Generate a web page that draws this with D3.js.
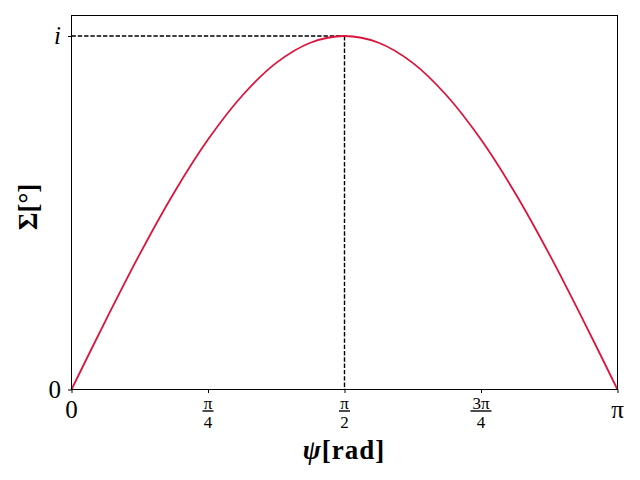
<!DOCTYPE html>
<html lang="en">
<head>
<meta charset="UTF-8">
<script src="https://d3js.org/d3.v7.min.js"></script>
<style>
  body { margin: 0; background: #fff; }
  svg { display: block; }
  .tick line { stroke: #000; }
  .serif { font-family: "Liberation Serif", "DejaVu Serif", serif; }
</style>
</head>
<body>
<svg width="640" height="480"></svg>
<script>
// psi in units of pi, Sigma as a fraction of i
var psi   = [0, 0.0625, 0.125, 0.1875, 0.25, 0.3125, 0.375, 0.4375, 0.5,
             0.5625, 0.625, 0.6875, 0.75, 0.8125, 0.875, 0.9375, 1];
var sigma = [0, 0.195, 0.383, 0.556, 0.707, 0.831, 0.924, 0.981, 1,
             0.981, 0.924, 0.831, 0.707, 0.556, 0.383, 0.195, 0];

var peakPsi = 0.5, peakSigma = 1;

var xTickVals = [0, 0.25, 0.5, 0.75, 1];
var xTickNum  = ["0", "π", "π", "3π", "π"];
var xTickDen  = [null, "4", "2", "4", null];
var yTickVals = [0, 1];
var yTickText = ["0", "i"];

var pLeft = 71.5, pRight = 617.5, pTop = 15.5, pBottom = 389.5;
var svg = d3.select("svg");

var x = d3.scaleLinear().domain([0, 1]).range([pLeft, pRight]);
var y = d3.scaleLinear().domain([0, 1.058]).range([pBottom, pTop]);

// dashed guides
svg.append("line")
    .attr("x1", pLeft).attr("x2", x(peakPsi))
    .attr("y1", y(peakSigma)).attr("y2", y(peakSigma))
    .attr("stroke", "#000").attr("stroke-width", 1.4)
    .attr("stroke-dasharray", "4.4,1.9");
svg.append("line")
    .attr("x1", x(peakPsi)).attr("x2", x(peakPsi))
    .attr("y1", y(peakSigma)).attr("y2", pBottom)
    .attr("stroke", "#000").attr("stroke-width", 1.4)
    .attr("stroke-dasharray", "4.4,1.9");

// curve
var line = d3.line()
    .x(function(d, i) { return x(psi[i]); })
    .y(function(d) { return y(d); })
    .curve(d3.curveCatmullRom);
svg.append("path")
    .datum(sigma)
    .attr("d", line)
    .attr("fill", "none")
    .attr("stroke", "#dc143c")
    .attr("stroke-width", 1.8);

// frame
svg.append("rect")
    .attr("x", pLeft).attr("y", pTop)
    .attr("width", pRight - pLeft).attr("height", pBottom - pTop)
    .attr("fill", "none").attr("stroke", "#000").attr("stroke-width", 1);

// axes
var xAxis = svg.append("g")
    .attr("transform", "translate(0," + pBottom + ")")
    .call(d3.axisBottom(x).tickValues(xTickVals).tickSize(3.5).tickSizeOuter(0).tickFormat(""));
xAxis.select(".domain").remove();
var yAxis = svg.append("g")
    .attr("transform", "translate(" + pLeft + ",0)")
    .call(d3.axisLeft(y).tickValues(yTickVals).tickSize(3.5).tickSizeOuter(0).tickFormat(""));
yAxis.select(".domain").remove();

// x tick labels
xTickVals.forEach(function(v, i) {
    var cx = x(v);
    if (xTickDen[i] == null) {
        svg.append("text").attr("class", "serif")
            .attr("x", cx).attr("y", 418)
            .attr("text-anchor", "middle")
            .attr("font-size", 25)
            .text(xTickNum[i]);
    } else {
        var w = xTickNum[i].length > 1 ? 21 : 11;
        svg.append("text").attr("class", "serif")
            .attr("x", cx).attr("y", 409)
            .attr("text-anchor", "middle")
            .attr("font-size", 17)
            .text(xTickNum[i]);
        svg.append("line")
            .attr("x1", cx - w / 2).attr("x2", cx + w / 2)
            .attr("y1", 411).attr("y2", 411)
            .attr("stroke", "#000").attr("stroke-width", 1.4);
        svg.append("text").attr("class", "serif")
            .attr("x", cx).attr("y", 428)
            .attr("text-anchor", "middle")
            .attr("font-size", 17)
            .text(xTickDen[i]);
    }
});

// y tick labels
yTickVals.forEach(function(v, i) {
    svg.append("text").attr("class", "serif")
        .attr("x", 61).attr("y", y(v) + 8)
        .attr("text-anchor", "end")
        .attr("font-size", 25)
        .attr("font-style", i == 1 ? "italic" : "normal")
        .text(yTickText[i]);
});

// axis labels
var xl = svg.append("text").attr("class", "serif")
    .attr("x", 344).attr("y", 459)
    .attr("text-anchor", "middle")
    .attr("font-size", 27)
    .attr("font-weight", "bold")
    .attr("letter-spacing", 1);
xl.append("tspan").attr("font-style", "italic").text("ψ");
xl.append("tspan").text("[rad]");

svg.append("text").attr("class", "serif")
    .attr("transform", "translate(37,207) rotate(-90)")
    .attr("text-anchor", "middle")
    .attr("font-size", 27)
    .attr("font-weight", "bold")
    .text("Σ[°]");
</script>
</body>
</html>
